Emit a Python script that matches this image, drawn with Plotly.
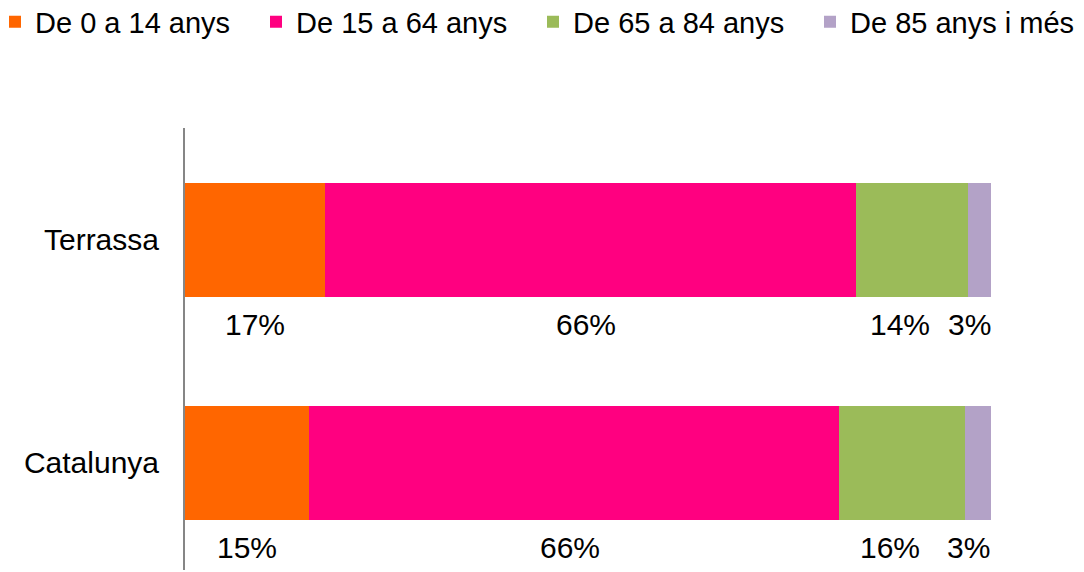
import plotly.graph_objects as go

categories = ["Terrassa", "Catalunya"]
series_names = ["De 0 a 14 anys", "De 15 a 64 anys", "De 65 a 84 anys", "De 85 anys i més"]
terrassa = [17.4, 65.8, 13.9, 2.9]
catalunya = [15.4, 65.7, 15.7, 3.2]
colors = ["#FF6600", "#FF0080", "#9BBB59", "#B3A2C7"]
label_xshift = [0, -4, -12, -10]
legend_left_px = [-13, 248, 525, 802]

values = [terrassa, catalunya]
FONT = "Liberation Sans, Arial, sans-serif"
W, H = 1076, 564
ML, MR, MT, MB = 177, 93, 120, 2
PW = W - ML - MR
fig = go.Figure()
legend_names = ["legend", "legend2", "legend3", "legend4"]
for i, name in enumerate(series_names):
    fig.add_trace(go.Bar(
        y=categories, x=[v[i] for v in values], name=name, orientation="h",
        marker=dict(color=colors[i], line=dict(width=0)),
        legend=legend_names[i],
    ))

annotations = []
for ci, cat in enumerate(categories):
    cum = 0
    for i, v in enumerate(values[ci]):
        center = cum + v / 2
        cum += v
        annotations.append(dict(
            x=center, y=cat, xref="x", yref="y", text=f"{round(v)}%",
            showarrow=False, yshift=-85, xshift=label_xshift[i],
            font=dict(family=FONT, size=30, color="#000000"),
        ))

legends = {}
for i, ln in enumerate(legend_names):
    legends[ln] = dict(orientation="h", x=(legend_left_px[i] - ML) / PW, y=1 - 14 / H,
                       xref="paper", yref="container", xanchor="left", yanchor="middle",
                       font=dict(family=FONT, size=29, color="#000000"),
                       bgcolor="rgba(0,0,0,0)", borderwidth=0)

fig.update_layout(
    barmode="stack", bargap=0.489,
    width=W, height=H,
    margin=dict(l=ML, r=MR, t=MT, b=MB, autoexpand=False),
    paper_bgcolor="white", plot_bgcolor="white",
    font=dict(family=FONT, size=30, color="#000000"),
    showlegend=True,
    annotations=annotations,
    xaxis=dict(range=[0, 100], visible=False, fixedrange=True),
    yaxis=dict(range=[1.48, -0.502], showline=True, linecolor="#868686", linewidth=2,
               ticks="", showgrid=False, zeroline=False, ticklabelstandoff=18,
               tickfont=dict(family=FONT, size=30)),
    **legends,
)
fig.write_html("out.html")
